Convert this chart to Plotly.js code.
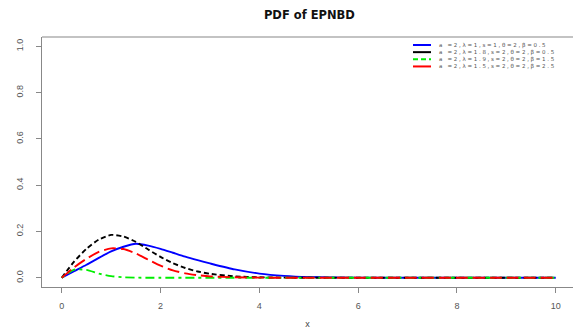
<!DOCTYPE html>
<html><head><meta charset="utf-8">
<script src="https://cdn.plot.ly/plotly-3.0.1.min.js"></script>
<style>html,body{margin:0;padding:0;background:#fff;overflow:hidden}
.annotation-text{letter-spacing:1.7px}</style>
</head><body><div id="chart" style="width:573px;height:329px"></div>
<script>
const xs = [0,0.25,0.5,0.75,1,1.25,1.5,1.75,2,2.25,2.5,2.75,3,3.5,4,4.5,5,6,7,8,9,10];
const blue  = [0,0.028,0.056,0.086,0.114,0.134,0.147,0.139,0.125,0.108,0.091,0.076,0.062,0.036,0.018,0.008,0.003,0.0005,0,0,0,0];
const black = [0,0.07,0.125,0.165,0.185,0.178,0.155,0.122,0.09,0.063,0.042,0.027,0.017,0.006,0.002,0.0005,0,0,0,0,0,0];
const green = [0,0.035,0.034,0.018,0.007,0.002,0.0005,0,0,0,0,0,0,0,0,0,0,0,0,0,0,0];
const red   = [0,0.045,0.082,0.112,0.127,0.124,0.105,0.078,0.052,0.032,0.019,0.011,0.006,0.002,0.0005,0,0,0,0,0,0,0];
const names = ["a =2,\u03bb=1,s=1,\u03b8=2,\u03b2=0.5","a =2,\u03bb=1.8,s=2,\u03b8=2,\u03b2=0.5","a =2,\u03bb=1.9,s=2,\u03b8=2,\u03b2=1.5","a =2,\u03bb=1.5,s=2,\u03b8=2,\u03b2=2.5"];
const colors = ['#0000ff','#000000','#00ee00','#ff0000'];
const dashes = ['solid','5px,3px','3px,4px,9px,4px','12px,5px'];
const yTicks = [0,0.2,0.4,0.6,0.8,1.0];
const yLabels = ["0.0","0.2","0.4","0.6","0.8","1.0"];
const xTicks = [0,2,4,6,8,10];
const series = [blue, black, green, red];

const data = series.map((y, i) => ({x: xs, y: y, name: names[i], type: 'scatter', mode: 'lines',
  line: {color: colors[i], dash: dashes[i], width: 1.9, shape: 'spline', smoothing: 0.6}}));

// legend drawn by hand (pixel placement converted to paper coords)
const L = 42, T = 37, W = 531, H = 250;
const px = v => (v - L) / W, py = v => (T + H - v) / H;
const fs = 5.5, lh = fs * 1.3, legTop = 45;
const shapes = [{type: 'line', xref: 'paper', yref: 'paper', x0: 0, x1: 1.01, y0: 1, y1: 1,
    line: {color: '#888', width: 1.2}}];
names.forEach((n, i) => {
  const r = legTop + i * lh;
  shapes.push({type: 'line', xref: 'paper', yref: 'paper', x0: px(413), x1: px(431), y0: py(r), y1: py(r),
    line: {color: colors[i], width: 2, dash: i === 2 ? '5px,3px' : 'solid'}});
});
const annotations = [{xref: 'paper', yref: 'paper', x: px(437), y: py(legTop + 1.5 * lh),
  xanchor: 'left', yanchor: 'middle', align: 'left', text: names.join('<br>'), showarrow: false,
  font: {family: 'DejaVu Sans, sans-serif', size: fs, color: '#555'}}];

const axisCol = '#888';
const layout = {
  width: 573, height: 329,
  margin: {l: L, r: 0, t: T, b: 42},
  paper_bgcolor: '#fff', plot_bgcolor: '#fff',
  font: {family: 'Liberation Sans, Arial, sans-serif', color: '#444', size: 9},
  title: {text: '<b>PDF of EPNBD</b>', x: 0.54, xanchor: 'center', y: 0.953, yanchor: 'middle',
    font: {family: 'DejaVu Sans, sans-serif', size: 11.5, color: '#111'}},
  xaxis: {range: [-0.4, 10.35], tickvals: xTicks, ticktext: xTicks.map(String),
    showgrid: false, zeroline: false, showline: true, linecolor: axisCol, linewidth: 1.2,
    ticks: 'outside', ticklen: 5, tickcolor: axisCol, tickfont: {size: 9, color: '#555'},
    ticklabelstandoff: 5,
    title: {text: 'x', font: {size: 9, color: '#444'}, standoff: 12}},
  yaxis: {range: [-0.04, 1.04], tickvals: yTicks, ticktext: yLabels, tickangle: -90,
    showgrid: false, zeroline: false, showline: true, linecolor: axisCol, linewidth: 1.2,
    ticks: 'outside', ticklen: 5, tickcolor: axisCol, tickfont: {size: 9, color: '#555'},
    ticklabelstandoff: 9},
  shapes: shapes,
  annotations: annotations,
  showlegend: false
};
Plotly.newPlot('chart', data, layout, {displayModeBar: false, staticPlot: true});
</script></body></html>
